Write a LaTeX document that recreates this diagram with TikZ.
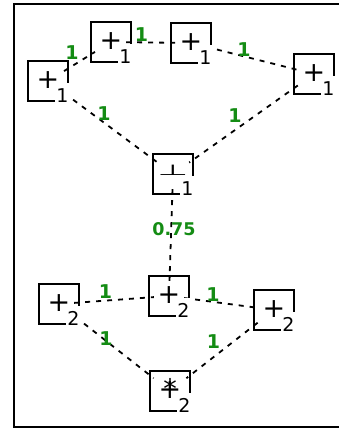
\documentclass[tikz,border=0pt]{standalone}
\usepackage{fontspec}
\usepackage{graphicx}
\setmainfont{DejaVu Sans}
\definecolor{wgreen}{RGB}{20,140,20}
\begin{document}
\begin{tikzpicture}[x=1pt,y=-1pt,
  state/.style={draw,line width=2.2pt,minimum size=40pt,inner sep=0pt,
    font=\fontsize{27}{27}\selectfont},
  sub/.style={anchor=south east,inner sep=0.5pt,
    font=\fontsize{19}{19}\selectfont},
  link/.style={line width=1.8pt,dash pattern=on 5pt off 6pt,
    shorten <=-6pt,shorten >=-6pt},
  wt/.style={text=wgreen,font=\fontsize{19}{19}\selectfont\bfseries,
    inner sep=1pt,anchor=south east}]
\useasboundingbox (0,0) rectangle (339,430);
% frame
\draw[line width=2pt] (345,4) -- (14,4) -- (14,427) -- (345,427);

% states
\node[state] (a) at (48,81) {\raisebox{1pt}{+}\hspace{5pt}};
\node[state] (b) at (111,42) {\raisebox{1pt}{+}\hspace{5pt}};
\node[state] (c) at (191,43) {\raisebox{1pt}{+}\hspace{5pt}};
\node[state] (d) at (314,74) {\raisebox{1pt}{+}\hspace{5pt}};
\node[state] (e) at (173,174) {\raisebox{7pt}{\scalebox{1.3}[0.55]{⊥}}};
\node[state] (f) at (59,304) {\raisebox{1pt}{+}\hspace{5pt}};
\node[state] (g) at (169,296) {\raisebox{1pt}{+}\hspace{5pt}};
\node[state] (h) at (274,310) {\raisebox{1pt}{+}\hspace{5pt}};
\node[state] (i) at (170,391) {\raisebox{1pt}{\ooalign{+\cr\hidewidth*\hidewidth\cr}}\hspace{5pt}};

% weighted links
\draw[link] (a) -- node[wt,xshift=1pt] {1} (b);
\draw[link] (b) -- node[wt,xshift=-1pt,yshift=-1pt] {1} (c);
\draw[link] (c) -- node[wt] {1} (d);
\draw[link] (a) -- node[wt,xshift=2pt,yshift=5pt] {1} (e);
\draw[link] (d) -- node[wt] {1} (e);
\draw[link] (e) -- node[wt,anchor=south,xshift=3pt,yshift=-3pt,
  font=\fontsize{17.5}{17.5}\selectfont\bfseries] {0.75} (g);
\draw[link] (f) -- node[wt] {1} (g);
\draw[link] (f) -- node[wt] {1} (i);
\draw[link] (g) -- node[wt] {1} (h);
\draw[link] (h) -- node[wt] {1} (i);

% subscripts sit on a white patch over each lower right corner
\foreach \s/\k in {a/1,b/1,c/1,d/1,e/1,f/2,g/2,h/2,i/2}{
  \fill[white] ([shift={(-14,-19)}]\s.south east)
    rectangle ([shift={(2.5,2.5)}]\s.south east);
  \node[sub] (\s-sub) at ([shift={(0,1)}]\s.south east) {\k};
}
\end{tikzpicture}
\end{document}
